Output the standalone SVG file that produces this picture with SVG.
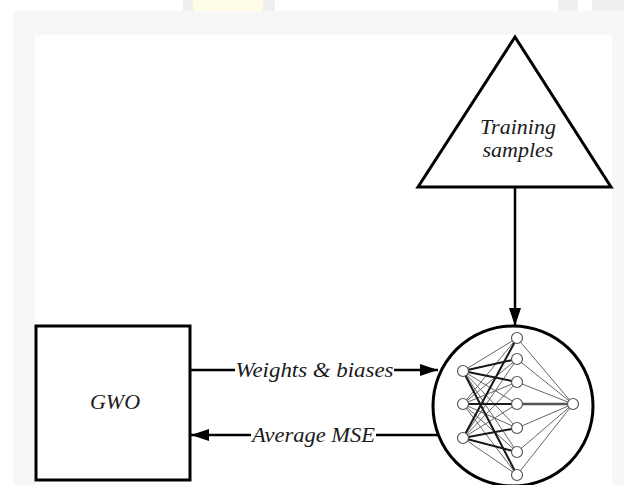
<svg xmlns="http://www.w3.org/2000/svg" width="624" height="485" viewBox="0 0 624 485">
<defs>
<marker id="ah" viewBox="0 0 18 12" refX="18" refY="6" markerWidth="18" markerHeight="12" markerUnits="userSpaceOnUse" orient="auto">
<path d="M0,0 L18,6 L0,12 Z" fill="#000"/>
</marker>
</defs>
<style>
.lbl{font-family:"Liberation Serif","Times New Roman",serif;font-style:italic;font-size:22px;fill:#1a1a1a}
.shape{fill:#fff;stroke:#000;stroke-width:3}
.conn{stroke:#000;stroke-width:2.5;fill:none}
.thin{stroke:#666;stroke-width:1}
.thick{stroke:#1a1a1a;stroke-width:2}
.nd{fill:#fff;stroke:#555;stroke-width:1.2}
</style>
<!-- background -->
<rect x="0" y="0" width="624" height="485" fill="#fff"/>
<rect x="13" y="11" width="611" height="474" fill="#f7f7f7"/>
<rect x="35" y="35" width="577" height="450" fill="#fff"/>
<rect x="183" y="0" width="92" height="11" fill="#efefef"/>
<rect x="193" y="0" width="70" height="11" fill="#fffde8"/>
<rect x="558" y="0" width="20" height="11" fill="#efefef"/>
<rect x="592" y="0" width="32" height="11" fill="#efefef"/>

<g id="connectors">
<line class="conn" x1="515" y1="187" x2="515" y2="326" marker-end="url(#ah)"/>
<line class="conn" x1="190" y1="370" x2="235" y2="370"/>
<line class="conn" x1="394" y1="370" x2="438" y2="370" marker-end="url(#ah)"/>
<line class="conn" x1="438" y1="435" x2="376" y2="435"/>
<line class="conn" x1="251" y1="435" x2="191" y2="435" marker-end="url(#ah)"/>
<text class="lbl" x="314.5" y="377" text-anchor="middle" textLength="158" lengthAdjust="spacingAndGlyphs">Weights &amp; biases</text>
<text class="lbl" x="313.5" y="442" text-anchor="middle" textLength="123" lengthAdjust="spacingAndGlyphs">Average MSE</text>
</g>

<g id="training-samples">
<polygon class="shape" points="515,37 418,187 611,187" stroke-linejoin="miter"/>
<text class="lbl" x="518" y="134" text-anchor="middle">Training</text>
<text class="lbl" x="518" y="157" text-anchor="middle">samples</text>
</g>

<g id="gwo">
<rect class="shape" x="36" y="326" width="154" height="154"/>
<text class="lbl" x="115" y="409" text-anchor="middle">GWO</text>
</g>

<g id="neural-network">
<circle class="shape" cx="513" cy="406" r="80"/>
<g class="thin">
<line x1="463" y1="371" x2="517" y2="338"/><line x1="463" y1="371" x2="517" y2="359"/><line x1="463" y1="371" x2="517" y2="382"/><line x1="463" y1="371" x2="517" y2="404"/><line x1="463" y1="371" x2="517" y2="428"/><line x1="463" y1="371" x2="517" y2="452"/><line x1="463" y1="371" x2="517" y2="475"/>
<line x1="463" y1="404" x2="517" y2="338"/><line x1="463" y1="404" x2="517" y2="359"/><line x1="463" y1="404" x2="517" y2="382"/><line x1="463" y1="404" x2="517" y2="428"/><line x1="463" y1="404" x2="517" y2="452"/><line x1="463" y1="404" x2="517" y2="475"/>
<line x1="463" y1="438" x2="517" y2="338"/><line x1="463" y1="438" x2="517" y2="359"/><line x1="463" y1="438" x2="517" y2="382"/><line x1="463" y1="438" x2="517" y2="404"/><line x1="463" y1="438" x2="517" y2="428"/><line x1="463" y1="438" x2="517" y2="452"/><line x1="463" y1="438" x2="517" y2="475"/>
<line x1="517" y1="338" x2="573" y2="404"/><line x1="517" y1="359" x2="573" y2="404"/><line x1="517" y1="382" x2="573" y2="404"/><line x1="517" y1="428" x2="573" y2="404"/><line x1="517" y1="452" x2="573" y2="404"/><line x1="517" y1="475" x2="573" y2="404"/>
</g>
<g class="thick">
<line x1="463" y1="371" x2="517" y2="359"/><line x1="463" y1="371" x2="517" y2="382"/><line x1="463" y1="371" x2="517" y2="475"/>
<line x1="463" y1="404" x2="517" y2="404"/>
<line x1="463" y1="438" x2="517" y2="428"/><line x1="463" y1="438" x2="517" y2="452"/><line x1="463" y1="438" x2="517" y2="338"/>
<line x1="517" y1="404" x2="573" y2="404" stroke="#555" stroke-width="2.5"/>
</g>
<circle class="nd" cx="463" cy="371" r="5.5"/><circle class="nd" cx="463" cy="404" r="5.5"/><circle class="nd" cx="463" cy="438" r="5.5"/>
<circle class="nd" cx="517" cy="338" r="5.5"/><circle class="nd" cx="517" cy="359" r="5.5"/><circle class="nd" cx="517" cy="382" r="5.5"/><circle class="nd" cx="517" cy="404" r="5.5"/><circle class="nd" cx="517" cy="428" r="5.5"/><circle class="nd" cx="517" cy="452" r="5.5"/><circle class="nd" cx="517" cy="475" r="5.5"/>
<circle class="nd" cx="573" cy="404" r="5.5"/>
</g>
</svg>
